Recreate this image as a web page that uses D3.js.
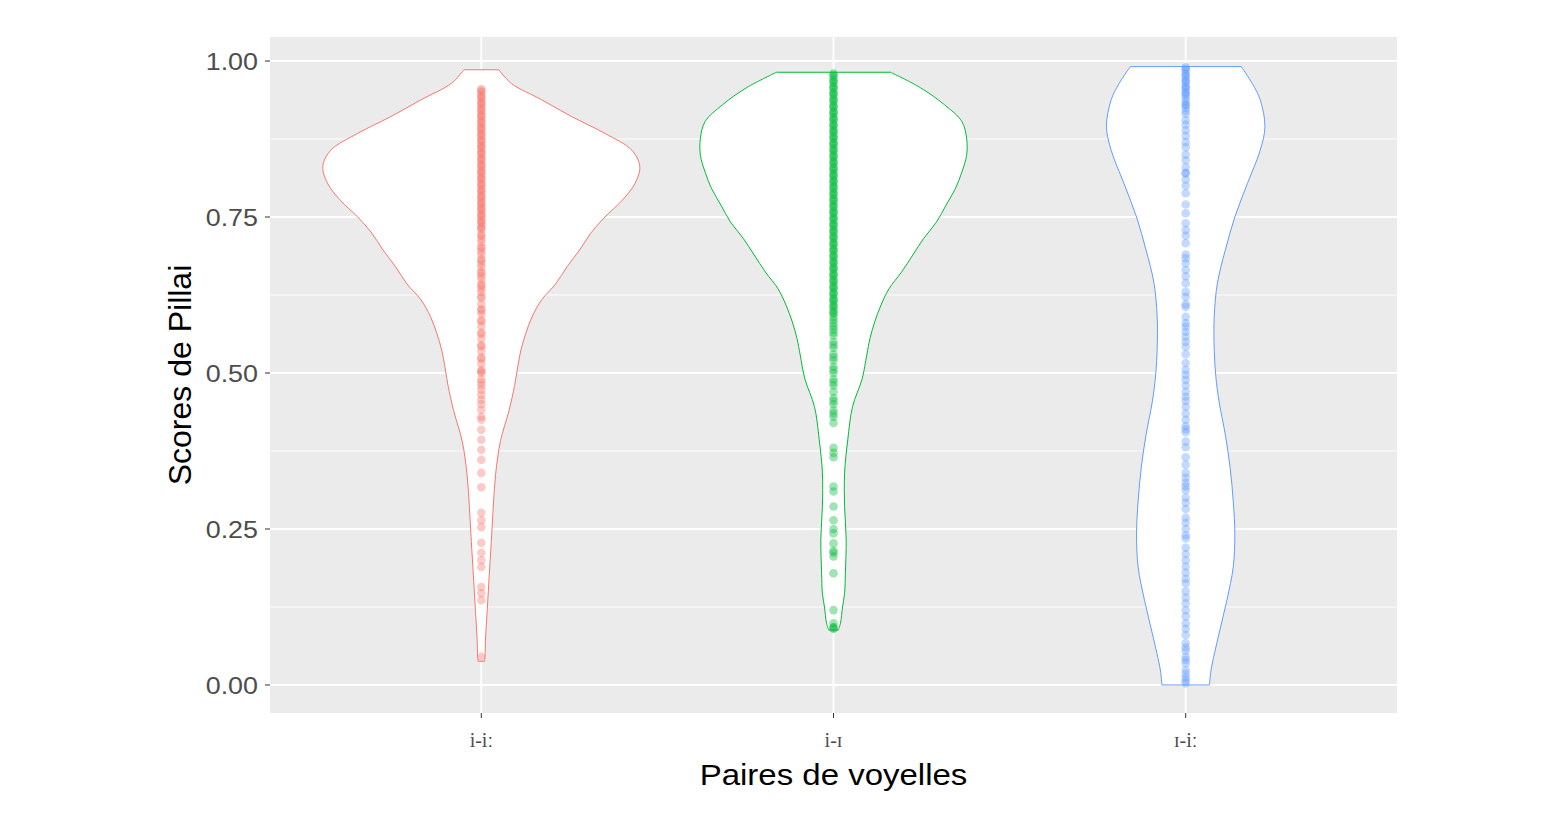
<!DOCTYPE html>
<html>
<head>
<meta charset="utf-8">
<script src="https://cdnjs.cloudflare.com/ajax/libs/d3/7.8.5/d3.min.js"></script>
<style>
  body { margin: 0; background: #fff; }
  svg { display: block; }
</style>
</head>
<body>
<script>
// categories and colours
var categories = ["i-iː", "i-ɪ", "ɪ-iː"];
var colors = ["#F8766D", "#00BA38", "#619CFF"];
var yTicks = [0, 0.25, 0.5, 0.75, 1];
var yTickLabels = ["0.00", "0.25", "0.50", "0.75", "1.00"];
var yMinor = [0.125, 0.375, 0.625, 0.875];

// violin outlines, [score, relative density]
var densityA = [[0.986,0.11],[0.964,0.19],[0.938,0.38],[0.911,0.57],[0.884,0.78],[0.857,0.95],[0.831,1.00],[0.804,0.97],
  [0.777,0.89],[0.750,0.78],[0.724,0.69],[0.697,0.62],[0.670,0.54],[0.643,0.47],[0.617,0.38],[0.590,0.32],[0.563,0.28],
  [0.537,0.25],[0.510,0.23],[0.480,0.21],[0.440,0.175],[0.390,0.12],[0.337,0.09],[0.284,0.075],[0.230,0.063],[0.176,0.05],
  [0.123,0.038],[0.070,0.026],[0.050,0.024],[0.038,0.02]];
var densityB = [[0.982,0.36],[0.957,0.55],[0.930,0.70],[0.903,0.81],[0.876,0.84],[0.849,0.84],[0.822,0.81],[0.796,0.77],
  [0.769,0.71],[0.742,0.65],[0.716,0.57],[0.689,0.50],[0.662,0.43],[0.635,0.35],[0.609,0.30],[0.582,0.26],[0.555,0.23],
  [0.529,0.21],[0.490,0.18],[0.446,0.12],[0.393,0.09],[0.340,0.07],[0.286,0.07],[0.234,0.08],[0.179,0.075],[0.147,0.07],
  [0.125,0.057],[0.099,0.044],[0.088,0.03]];
var densityC = [[0.991,0.35],[0.964,0.42],[0.938,0.47],[0.895,0.50],[0.857,0.47],[0.804,0.39],[0.750,0.31],[0.697,0.25],
  [0.644,0.20],[0.590,0.18],[0.538,0.18],[0.495,0.19],[0.455,0.21],[0.401,0.25],[0.349,0.28],[0.295,0.30],[0.242,0.31],
  [0.189,0.30],[0.136,0.26],[0.082,0.21],[0.024,0.16],[0.000,0.15]];

// Pillai scores (points)
var scoresA = [0.955,0.95,0.945,0.94,0.935,0.93,0.925,0.92,0.915,0.91,0.905,0.9,0.895,0.89,0.885,0.88,0.875,0.87,0.865,
  0.86,0.855,0.85,0.845,0.84,0.835,0.83,0.825,0.82,0.815,0.81,0.805,0.8,0.795,0.79,0.785,0.78,0.775,0.77,0.765,0.76,
  0.755,0.75,0.745,0.74,0.735,0.73,0.72,0.715,0.71,0.70,0.695,0.69,0.68,0.675,0.67,0.66,0.655,0.65,0.64,0.635,0.63,
  0.62,0.61,0.60,0.595,0.585,0.575,0.565,0.555,0.545,0.535,0.525,0.515,0.505,0.50,0.49,0.48,0.473,0.457,0.441,0.425,
  0.409,0.393,0.377,0.361,0.340,0.317,0.276,0.264,0.253,0.228,0.212,0.200,0.189,0.157,0.147,0.136,0.045,
  0.9525,0.9425,0.9325,0.9225,0.9125,0.9025,0.8925,0.8825,0.8725,0.8625,0.8525,0.8425,0.8325,0.8225,0.8125,0.8025,
  0.7925,0.7825,0.7725,0.7625,0.7525,0.7425,0.7325,0.7225,0.7025,0.6825,0.6625,0.6425,0.6225,0.6025,0.5825,0.5625,
  0.5425,0.5225,0.5025,0.485,0.465,0.45,0.43];
var scoresB = [0.98,0.975,0.97,0.965,0.96,0.955,0.95,0.945,0.94,0.935,0.93,0.925,0.92,0.915,0.91,0.905,0.9,0.895,0.89,
  0.885,0.88,0.875,0.87,0.865,0.86,0.855,0.85,0.845,0.84,0.835,0.83,0.825,0.82,0.815,0.81,0.805,0.8,0.795,0.79,0.785,
  0.78,0.775,0.77,0.765,0.76,0.755,0.75,0.745,0.74,0.735,0.73,0.725,0.72,0.715,0.71,0.705,0.70,0.695,0.69,0.685,0.68,
  0.675,0.67,0.665,0.66,0.655,0.65,0.645,0.64,0.635,0.63,0.625,0.62,0.615,0.61,0.605,0.60,0.595,0.59,0.58,0.57,0.56,
  0.55,0.54,0.53,0.52,0.51,0.50,0.49,0.48,0.47,0.46,0.45,0.44,0.43,0.42,0.38,0.365,0.318,0.286,0.264,0.243,0.227,
  0.206,0.179,0.12,0.099,0.093,0.09,
  0.9775,0.9675,0.9575,0.9475,0.9375,0.9275,0.9175,0.9075,0.8975,0.8875,0.8775,0.8675,0.8575,0.8475,0.8375,0.8275,
  0.8175,0.8075,0.7975,0.7875,0.7775,0.7675,0.7575,0.7475,0.7375,0.7275,0.7175,0.7075,0.6975,0.6875,0.6775,0.6675,
  0.6575,0.6475,0.6375,0.6275,0.6175,0.6075,0.5975,0.585,0.575,0.565,0.545,0.525,0.505,0.485,0.455,0.435,0.372,0.31,
  0.25,0.215,0.212,0.0915];
var scoresC = [0.99,0.985,0.98,0.975,0.97,0.965,0.96,0.955,0.95,0.945,0.94,0.93,0.925,0.92,0.905,0.889,0.862,0.841,
  0.821,0.788,0.756,0.729,0.708,0.684,0.665,0.644,0.622,0.606,0.590,0.574,0.558,0.542,0.516,0.497,0.489,0.462,0.446,
  0.425,0.405,0.381,0.353,0.324,0.312,0.292,0.268,0.240,0.200,0.163,0.131,0.099,0.067,0.045,0.024,0.003,
  0.93,0.88,0.82,0.80,0.74,0.69,0.58,0.47,0.41,0.34,0.30,0.25,0.22,0.18,0.14,0.11,0.08,0.055,0.035,0.012,
  0.9875,0.9775,0.9675,0.9575,0.9475,0.935,0.915,0.898,0.87,0.85,0.83,0.81,0.77,0.72,0.676,0.655,0.63,0.61,0.566,
  0.55,0.53,0.505,0.48,0.455,0.435,0.415,0.39,0.365,0.332,0.318,0.282,0.26,0.235,0.21,0.19,0.17,0.15,0.12,0.09,
  0.06,0.04,0.018,0.007];

var densities = [densityA, densityB, densityC];
var scores = [scoresA, scoresB, scoresC];

var W = 1563, H = 831;
var margin = {top: 37, right: 166, bottom: 118, left: 270};
var x0 = margin.left, x1 = W - margin.right, y0 = margin.top, y1 = H - margin.bottom;

var svg = d3.select("body").append("svg").attr("width", W).attr("height", H);

var x = d3.scalePoint().domain(categories).range([x0, x1]).padding(0.6);
var y = d3.scaleLinear().domain([-0.0449, 1.0385]).range([y1, y0]);
var halfW = d3.scaleLinear().domain([0, 1]).range([0, x.step() * 0.45]);

// panel
svg.append("rect").attr("x", x0).attr("y", y0).attr("width", x1 - x0).attr("height", y1 - y0).attr("fill", "#EBEBEB");

svg.append("g").selectAll("line").data(yMinor).enter().append("line")
  .attr("x1", x0).attr("x2", x1)
  .attr("y1", function(d){return y(d);}).attr("y2", function(d){return y(d);})
  .attr("stroke", "#fff").attr("stroke-width", 0.9);
svg.append("g").selectAll("line").data(yTicks).enter().append("line")
  .attr("x1", x0).attr("x2", x1)
  .attr("y1", function(d){return y(d);}).attr("y2", function(d){return y(d);})
  .attr("stroke", "#fff").attr("stroke-width", 1.8);
svg.append("g").selectAll("line").data(categories).enter().append("line")
  .attr("y1", y0).attr("y2", y1)
  .attr("x1", function(d){return x(d);}).attr("x2", function(d){return x(d);})
  .attr("stroke", "#fff").attr("stroke-width", 1.8);

// violins
densities.forEach(function(dens, i) {
  var cx = x(categories[i]);
  var area = d3.area()
    .curve(d3.curveCatmullRom)
    .y(function(d){return y(d[0]);})
    .x0(function(d){return cx - halfW(d[1]);})
    .x1(function(d){return cx + halfW(d[1]);});
  svg.append("path").datum(dens)
    .attr("d", area)
    .attr("fill", "#fff")
    .attr("stroke", colors[i])
    .attr("stroke-width", 1);
});

// points
scores.forEach(function(s, i) {
  svg.append("g").selectAll("circle").data(s).enter().append("circle")
    .attr("cx", x(categories[i]))
    .attr("cy", function(d){return y(d);})
    .attr("r", 4.3)
    .attr("fill", colors[i])
    .attr("fill-opacity", 0.38);
});

// y axis
var gy = svg.append("g");
gy.selectAll("line").data(yTicks).enter().append("line")
  .attr("x1", x0 - 5).attr("x2", x0)
  .attr("y1", function(d){return y(d);}).attr("y2", function(d){return y(d);})
  .attr("stroke", "#333").attr("stroke-width", 1);
gy.selectAll("text").data(yTicks).enter().append("text")
  .attr("transform", function(d){return "translate(" + (x0 - 12) + "," + y(d) + ") scale(1.12,1)";})
  .attr("text-anchor", "end").attr("dy", "0.36em")
  .attr("font-family", "Liberation Sans, Arial, sans-serif").attr("font-size", 24)
  .attr("fill", "#4D4D4D")
  .text(function(d, i){return yTickLabels[i];});

// x axis
var gx = svg.append("g");
gx.selectAll("line").data(categories).enter().append("line")
  .attr("y1", y1).attr("y2", y1 + 5)
  .attr("x1", function(d){return x(d);}).attr("x2", function(d){return x(d);})
  .attr("stroke", "#333").attr("stroke-width", 1);
gx.selectAll("text").data(categories).enter().append("text")
  .attr("x", function(d){return x(d);}).attr("y", y1 + 34)
  .attr("text-anchor", "middle")
  .attr("font-family", "Liberation Serif, DejaVu Serif, serif").attr("font-size", 20)
  .attr("fill", "#4D4D4D")
  .text(function(d){return d;});

// titles
svg.append("text")
  .attr("transform", "translate(" + ((x0 + x1) / 2) + ",785) scale(1.1,1)")
  .attr("text-anchor", "middle")
  .attr("font-family", "Liberation Sans, Arial, sans-serif").attr("font-size", 30)
  .attr("fill", "#000")
  .text("Paires de voyelles");
svg.append("text")
  .attr("transform", "translate(191," + ((y0 + y1) / 2) + ") rotate(-90)")
  .attr("text-anchor", "middle")
  .attr("font-family", "Liberation Sans, Arial, sans-serif").attr("font-size", 32)
  .attr("fill", "#000")
  .text("Scores de Pillai");
</script>
</body>
</html>
